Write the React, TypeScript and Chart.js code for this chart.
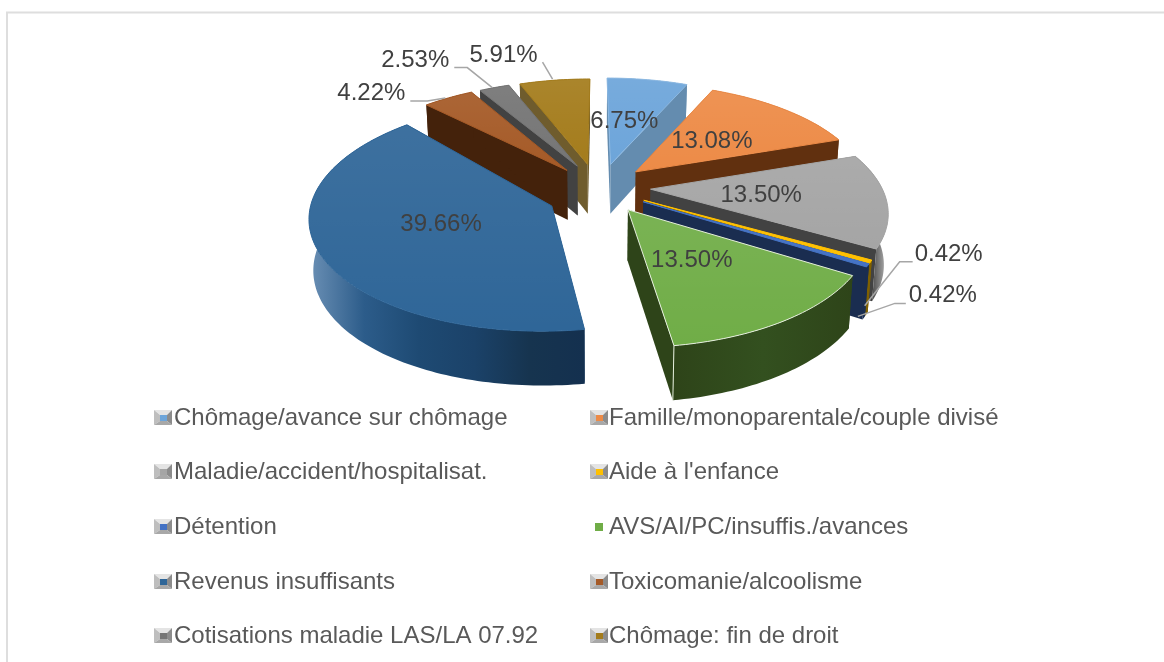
import React, { useEffect, useRef } from "react";
import { Chart, registerables } from "chart.js";

Chart.register(...registerables);

const categories = [
  "Chômage/avance sur chômage",
  "Famille/monoparentale/couple divisé",
  "Maladie/accident/hospitalisat.",
  "Aide à l'enfance",
  "Détention",
  "AVS/AI/PC/insuffis./avances",
  "Revenus insuffisants",
  "Toxicomanie/alcoolisme",
  "Cotisations maladie LAS/LA 07.92",
  "Chômage: fin de droit",
];
const shares = [6.75, 13.08, 13.5, 0.42, 0.42, 13.5, 39.66, 4.22, 2.53, 5.91];
const sliceColors = ["#6DA5DA", "#ED8B47", "#A5A5A5", "#FFC000", "#4472C4", "#70AD47", "#2F6698", "#A55A27", "#757575", "#A47C1C"];
const sliceEdges = ["#8DB9E2", "#ED8B47", "#A5A5A5", "#FFC000", "#4472C4", "#E4EEDC", "#2F6698", "#A55A27", "#757575", "#A47C1C"];
const cutFaceColors = ["#648CAF", "#61300F", "#424242", "#7F6000", "#1A2D50", "#2E4419", "#1B4269", "#44220B", "#424242", "#6F5C2D"];
const outerWallStops = [
  ["#648CAF", "#648CAF"],
  ["#61300F", "#61300F"],
  ["#424242", "#4A4A4A", "#BDBDBD"],
  ["#7F6000", "#7F6000"],
  ["#1A2D50", "#1A2D50"],
  ["#2E4419", "#33501F", "#2E4419"],
  ["#6B90B5", "#2C5C8A", "#1E4A73", "#1B4269", "#16344F", "#14304F"],
  ["#44220B", "#44220B"],
  ["#424242", "#424242"],
  ["#6F5C2D", "#6F5C2D"],
];
const apexShifts = [[3, 0], [4, 1], [6, 2], [5, 4], [5, 5], [4, 6], [-4, 11], [-3, 2], [-1, 0], [-2, 0]];
const rimShifts = [[1, -1], [5, 0], [4, 2], [2, 2], [2, 2], [1, 2], [-4, -1], [-3, 0], [-2, 0], [-1, 0]];
const labelOffsets = [[-8, 10], [-12, 9], [-25, 2], null, null, [-21, -8], [21, -3], null, null, null];
const leaderPaths = [
  null, null, null,
  { label: [80, -5], points: [[-4, 46], [31, 2], [44, 2]] },
  { label: [77, 32], points: [[-8, 53], [29, 40], [40, 40]] },
  null, null,
  { label: [-80, -5], points: [[-6, 0], [-24, 3], [-41, 3]] },
  { label: [-81, -27], points: [[-4, 0], [-29, -20], [-42, -20]] },
  { label: [-52, -25], points: [[-3, -1], [-13, -18]] },
];
const legendLayout = { columns: [155, 591], textColumns: [174, 609], rows: [418, 472, 527, 582, 636] };
const flatMarkerIndex = 5;

// camera of the tilted pie
const CX = 598, CY = 185, AX = 233, AY = 108, PERSP = 0.183, EXPLODE = 0.2;
const project = (u: number, v: number) => {
  const w = 1 + PERSP * v;
  return [CX + (AX * u) / w, CY - (AY * v) / w];
};
const dropped = (p: number[], v: number) => [CX + (p[0] - CX) * 0.985, p[1] + 50 - 4 * v];

const poly = (ctx: any, pts: number[][]) => {
  ctx.beginPath();
  pts.forEach((p, i) => (i ? ctx.lineTo(p[0], p[1]) : ctx.moveTo(p[0], p[1])));
  ctx.closePath();
};

function sliceGeometry(el: any, i: number) {
  const { startAngle, endAngle } = el.getProps(["startAngle", "endAngle"], true);
  const mid = (startAngle + endAngle) / 2;
  const eu = EXPLODE * Math.cos(mid);
  const ev = -EXPLODE * Math.sin(mid);
  const steps = Math.max(2, Math.ceil((endAngle - startAngle) / 0.02));
  const rim: { p: number[]; v: number }[] = [];
  for (let s = 0; s <= steps; s++) {
    const a = startAngle + ((endAngle - startAngle) * s) / steps;
    const v = ev - Math.sin(a);
    const q = project(eu + Math.cos(a), v);
    rim.push({ p: [q[0] + rimShifts[i][0], q[1] + rimShifts[i][1]], v });
  }
  const base = project(eu, ev);
  const apex = [base[0] + apexShifts[i][0], base[1] + apexShifts[i][1]];
  return { mid, eu, ev, rim, apex };
}

const pie3d = {
  id: "pie3d",
  beforeDatasetDraw(chart: any) {
    const ctx = chart.ctx;
    const meta = chart.getDatasetMeta(0);
    const order = meta.data
      .map((el: any, i: number) => ({ i, g: sliceGeometry(el, i), el }))
      .sort((a: any, b: any) => b.g.ev - a.g.ev);
    ctx.save();
    ctx.lineJoin = "round";
    for (const { i, g, el } of order) {
      const apexLow = dropped(g.apex, g.ev);
      const first = g.rim[0];
      const last = g.rim[g.rim.length - 1];
      // cut faces
      ctx.fillStyle = cutFaceColors[i];
      for (const r of [first, last]) {
        poly(ctx, [g.apex, r.p, dropped(r.p, r.v), apexLow]);
        ctx.fill();
      }
      // outer wall
      const low = g.rim.map((r: any) => dropped(r.p, r.v)).reverse();
      const xs = g.rim.map((r: any) => r.p[0]);
      const x0 = Math.min(...xs), x1 = Math.max(...xs);
      const grad = ctx.createLinearGradient(x0, 0, x1 + 0.01, 0);
      outerWallStops[i].forEach((c, k, arr) => grad.addColorStop(k / (arr.length - 1), c));
      ctx.fillStyle = grad;
      poly(ctx, [...g.rim.map((r: any) => r.p), ...low]);
      ctx.fill();
      // top face
      const top = [g.apex, ...g.rim.map((r: any) => r.p)];
      poly(ctx, top);
      ctx.fillStyle = el.options.backgroundColor;
      ctx.fill();
      const ys = top.map((p: number[]) => p[1]);
      const sheen = ctx.createLinearGradient(0, Math.min(...ys), 0, Math.max(...ys));
      sheen.addColorStop(0, "rgba(255,255,255,0.07)");
      sheen.addColorStop(1, "rgba(255,255,255,0)");
      ctx.fillStyle = sheen;
      ctx.fill();
      ctx.strokeStyle = el.options.borderColor;
      ctx.lineWidth = el.options.borderWidth;
      ctx.stroke();
      if (i === 5) {
        const d = dropped(last.p, last.v);
        ctx.beginPath();
        ctx.moveTo(last.p[0], last.p[1]);
        ctx.lineTo(d[0], d[1]);
        ctx.stroke();
      }
    }
    ctx.restore();
    return false;
  },
  afterDatasetsDraw(chart: any) {
    const ctx = chart.ctx;
    const meta = chart.getDatasetMeta(0);
    ctx.save();
    ctx.font = "24px 'Liberation Sans'";
    ctx.fillStyle = "#404040";
    ctx.textAlign = "center";
    ctx.textBaseline = "middle";
    meta.data.forEach((el: any, i: number) => {
      const { startAngle, endAngle } = el.getProps(["startAngle", "endAngle"], true);
      const mid = (startAngle + endAngle) / 2;
      const text = shares[i].toFixed(2) + "%";
      const inner = labelOffsets[i];
      if (inner) {
        const p = project(0.8 * Math.cos(mid), -0.8 * Math.sin(mid));
        ctx.fillText(text, p[0] + inner[0], p[1] + inner[1]);
        return;
      }
      const lead = leaderPaths[i]!;
      const a = project(1.2 * Math.cos(mid), -1.2 * Math.sin(mid));
      ctx.beginPath();
      lead.points.forEach((q, k) => (k ? ctx.lineTo(a[0] + q[0], a[1] + q[1]) : ctx.moveTo(a[0] + q[0], a[1] + q[1])));
      ctx.strokeStyle = "#A6A6A6";
      ctx.lineWidth = 1.5;
      ctx.stroke();
      ctx.fillText(text, a[0] + lead.label[0], a[1] + lead.label[1]);
    });
    ctx.restore();
  },
};

const legendAndFrame = {
  id: "legendAndFrame",
  beforeDraw(chart: any) {
    const ctx = chart.ctx;
    ctx.save();
    ctx.strokeStyle = "#DEDEDE";
    ctx.lineWidth = 2;
    ctx.beginPath();
    ctx.moveTo(7, 662);
    ctx.lineTo(7, 12.5);
    ctx.lineTo(1164, 12.5);
    ctx.stroke();
    ctx.restore();
  },
  afterDraw(chart: any) {
    const ctx = chart.ctx;
    ctx.save();
    ctx.font = "24px 'Liberation Sans'";
    ctx.textBaseline = "middle";
    ctx.textAlign = "left";
    categories.forEach((name, i) => {
      const x = legendLayout.columns[i % 2];
      const y = legendLayout.rows[Math.floor(i / 2)];
      if (i === flatMarkerIndex) {
        ctx.fillStyle = sliceColors[i];
        ctx.fillRect(x + 4, y - 4, 8, 8);
      } else {
        const L = x - 1, R = x + 17, T = y - 8, B = y + 7;
        const iL = x + 5, iR = x + 12, iT = y - 3, iB = y + 3;
        const side = (pts: number[][], c: string) => { poly(ctx, pts); ctx.fillStyle = c; ctx.fill(); };
        side([[L, T], [R, T], [iR, iT], [iL, iT]], "#E4E4E4");
        side([[L, T], [iL, iT], [iL, iB], [L, B]], "#BEBEBE");
        side([[R, T], [iR, iT], [iR, iB], [R, B]], "#8C8C8C");
        side([[L, B], [R, B], [iR, iB], [iL, iB]], "#A8A8A8");
        ctx.fillStyle = sliceColors[i];
        ctx.fillRect(iL, iT, iR - iL, iB - iT);
      }
      ctx.fillStyle = "#595959";
      ctx.fillText(name, legendLayout.textColumns[i % 2], y);
    });
    ctx.restore();
  },
};

export default function App() {
  const ref = useRef<HTMLCanvasElement>(null);
  useEffect(() => {
    document.body.style.margin = "0";
    document.body.style.overflow = "hidden";
    const chart = new Chart(ref.current!, {
      type: "pie",
      data: {
        labels: categories,
        datasets: [{ data: shares, backgroundColor: sliceColors, borderColor: sliceEdges, borderWidth: 1 }],
      },
      options: {
        responsive: false,
        animation: false,
        plugins: { legend: { display: false }, tooltip: { enabled: false } },
      },
      plugins: [legendAndFrame, pie3d],
    } as any);
    return () => chart.destroy();
  }, []);
  return <canvas ref={ref} width={1164} height={662} style={{ display: "block", background: "#fff" }} />;
}
